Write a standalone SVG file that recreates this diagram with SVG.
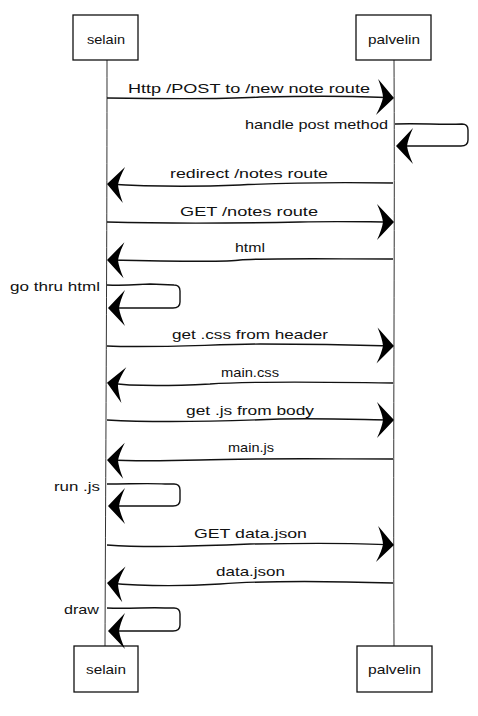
<svg xmlns="http://www.w3.org/2000/svg" width="478" height="716" viewBox="0 0 478 716">
<style>
.box{fill:#fff;stroke:#111;stroke-width:1.3}
.life{fill:none;stroke:#333;stroke-width:1}
.msg{fill:none;stroke:#111;stroke-width:1.4}
text{font-family:"Liberation Sans","DejaVu Sans",sans-serif;font-size:13px;fill:#111}
</style>
<defs>
<marker id="ah" markerUnits="userSpaceOnUse" markerWidth="24" markerHeight="40" viewBox="-20 -20 24 40" refX="0" refY="0" orient="auto" overflow="visible">
<path d="M1,0 L-16,-18 Q-11,-7 -10,0 Q-11,7 -16,18 Z" fill="#000"/>
</marker>
</defs>
<rect width="478" height="716" fill="#fff"/>
<g id="lifelines">
<path class="life" d="M107,60 C107,250 106,400 105,646"/>
<path class="life" d="M394,60 C395,250 393,400 394,646"/>
</g>
<g id="selain-top"><rect class="box" x="73" y="15" width="65" height="45"/><text x="87" y="44" textLength="38" lengthAdjust="spacingAndGlyphs">selain</text></g>
<g id="palvelin-top"><rect class="box" x="356" y="15" width="75" height="45"/><text x="368" y="44" textLength="52" lengthAdjust="spacingAndGlyphs">palvelin</text></g>
<g id="selain-bottom"><rect class="box" x="74" y="646" width="64" height="46"/><text x="86" y="674" textLength="40" lengthAdjust="spacingAndGlyphs">selain</text></g>
<g id="palvelin-bottom"><rect class="box" x="357" y="646" width="75" height="46"/><text x="368" y="674" textLength="53" lengthAdjust="spacingAndGlyphs">palvelin</text></g>
<g id="connectors">
<path class="msg" marker-end="url(#ah)" d="M107,98 C180,99 230,99 260,97 C310,96 360,96 393,98"/>
<path class="msg" marker-end="url(#ah)" d="M395,124 C420,123 440,125 462,124 Q468,124 468,130 L468,140 Q468,146 461,146 L397,146"/>
<path class="msg" marker-end="url(#ah)" d="M393,183 C330,182 280,183 240,185 C190,187 140,186 108,184"/>
<path class="msg" marker-end="url(#ah)" d="M107,222 C180,224 250,223 300,222 C340,221 370,222 393,222"/>
<path class="msg" marker-end="url(#ah)" d="M393,259 C330,259 260,258 240,260 C230,262 200,262 108,260"/>
<path class="msg" marker-end="url(#ah)" d="M107,285 C130,286 140,284 150,284 L174,285 Q180,285 180,291 L180,302 Q180,308 173,308 L109,308"/>
<path class="msg" marker-end="url(#ah)" d="M107,346 C150,348 200,345 260,344 C320,344 360,345 393,346"/>
<path class="msg" marker-end="url(#ah)" d="M393,383 C330,382 250,381 210,384 C170,386 130,386 108,383"/>
<path class="msg" marker-end="url(#ah)" d="M107,420 C160,423 230,421 280,419 C330,418 370,420 393,420"/>
<path class="msg" marker-end="url(#ah)" d="M393,459 C330,459 250,458 200,460 C160,461 130,461 108,460"/>
<path class="msg" marker-end="url(#ah)" d="M107,484 C130,484 150,483 165,484 L174,484 Q180,484 180,490 L180,500 Q180,506 173,506 L109,506"/>
<path class="msg" marker-end="url(#ah)" d="M107,545 C150,548 200,546 250,544 C310,543 360,543 393,545"/>
<path class="msg" marker-end="url(#ah)" d="M393,583 C330,581 260,581 220,584 C170,587 130,585 108,583"/>
<path class="msg" marker-end="url(#ah)" d="M107,608 C130,609 150,607 165,608 L174,608 Q180,608 180,614 L180,625 Q180,631 173,631 L109,631"/>
</g>
<g id="labels">
<text x="128" y="93" textLength="242" lengthAdjust="spacingAndGlyphs">Http /POST to /new note route</text>
<text x="245" y="129" textLength="143" lengthAdjust="spacingAndGlyphs">handle post method</text>
<text x="170" y="178" textLength="158" lengthAdjust="spacingAndGlyphs">redirect /notes route</text>
<text x="180" y="216" textLength="138" lengthAdjust="spacingAndGlyphs">GET /notes route</text>
<text x="235" y="252" textLength="30" lengthAdjust="spacingAndGlyphs">html</text>
<text x="10" y="291" textLength="90" lengthAdjust="spacingAndGlyphs">go thru html</text>
<text x="172" y="339" textLength="156" lengthAdjust="spacingAndGlyphs">get .css from header</text>
<text x="221" y="377" textLength="58" lengthAdjust="spacingAndGlyphs">main.css</text>
<text x="186" y="415" textLength="128" lengthAdjust="spacingAndGlyphs">get .js from body</text>
<text x="228" y="452" textLength="46" lengthAdjust="spacingAndGlyphs">main.js</text>
<text x="54" y="491" textLength="46" lengthAdjust="spacingAndGlyphs">run .js</text>
<text x="194" y="538" textLength="113" lengthAdjust="spacingAndGlyphs">GET data.json</text>
<text x="216" y="576" textLength="69" lengthAdjust="spacingAndGlyphs">data.json</text>
<text x="64" y="614" textLength="35" lengthAdjust="spacingAndGlyphs">draw</text>
</g>
</svg>
